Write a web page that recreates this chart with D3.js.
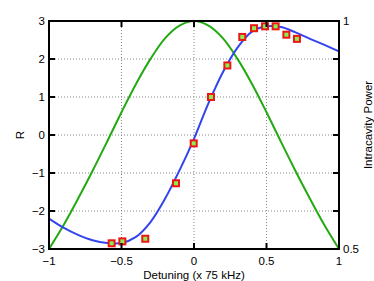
<!DOCTYPE html>
<html><head><meta charset="utf-8">
<script src="https://cdn.jsdelivr.net/npm/d3@7"></script>
<style>body{margin:0;background:#fff}svg{display:block}text{font-family:"Liberation Sans",Arial,sans-serif;font-size:11.5px;fill:#000}</style>
</head><body>
<svg id="c" width="374" height="281"></svg>
<script>
// Theory curve R vs detuning (blue)
const theoryX = [-1,-0.9,-0.8,-0.7,-0.6,-0.5,-0.4,-0.3,-0.2,-0.1,0,0.1,0.2,0.3,0.4,0.5,0.6,0.7,0.8,0.9,1];
const theoryR = [-2.2,-2.44,-2.63,-2.77,-2.84,-2.84,-2.68,-2.29,-1.68,-0.93,-0.1,0.84,1.66,2.3,2.72,2.86,2.84,2.7,2.53,2.37,2.2];
// Intracavity power (green, right axis)
const powerX = [-1,-0.9,-0.8,-0.7,-0.6,-0.5,-0.4,-0.3,-0.2,-0.1,0,0.1,0.2,0.3,0.4,0.5,0.6,0.7,0.8,0.9,1];
const powerY = [0.5,0.552,0.61,0.671,0.735,0.8,0.862,0.917,0.962,0.99,1,0.99,0.962,0.917,0.862,0.8,0.735,0.671,0.61,0.552,0.5];
// Measured points (squares)
const measX = [-0.568,-0.494,-0.336,-0.124,-0.002,0.117,0.23,0.333,0.414,0.49,0.563,0.637,0.71];
const measR = [-2.85,-2.80,-2.73,-1.27,-0.22,1.0,1.83,2.58,2.81,2.86,2.86,2.64,2.53];
const xTicks = [-1,-0.5,0,0.5,1];
const xTickLabels = ["\u22121","\u22120.5","0","0.5","1"];
const yTicks = [-3,-2,-1,0,1,2,3];
const yTickLabels = ["\u22123","\u22122","\u22121","0","1","2","3"];
const y2Ticks = [0.5,1];
const y2TickLabels = ["0.5","1"];

const L=49,R=339,T=21,B=249;
const svg=d3.select("#c");
const x=d3.scaleLinear().domain([-1,1]).range([L,R]);
const y=d3.scaleLinear().domain([-3,3]).range([B,T]);
const y2=d3.scaleLinear().domain([0.5,1]).range([B,T]);

// grid
const g=svg.append("g");
g.selectAll(".gx").data(xTicks.slice(1,-1)).join("line")
 .attr("x1",d=>x(d)).attr("x2",d=>x(d)).attr("y1",T).attr("y2",B)
 .attr("stroke","#888").attr("stroke-width",1).attr("stroke-dasharray","1,2");
g.selectAll(".gy").data(yTicks.slice(1,-1)).join("line")
 .attr("y1",d=>y(d)).attr("y2",d=>y(d)).attr("x1",L).attr("x2",R)
 .attr("stroke","#888").attr("stroke-width",1).attr("stroke-dasharray","1,2");

// curves
const lineP=d3.line().x(d=>x(d[0])).y(d=>y2(d[1])).curve(d3.curveCatmullRom);
svg.append("path").datum(powerX.map((v,i)=>[v,powerY[i]])).attr("d",lineP)
 .attr("fill","none").attr("stroke","#22aa11").attr("stroke-width",2);
const lineR=d3.line().x(d=>x(d[0])).y(d=>y(d[1])).curve(d3.curveCatmullRom);
svg.append("path").datum(theoryX.map((v,i)=>[v,theoryR[i]])).attr("d",lineR)
 .attr("fill","none").attr("stroke","#3344ee").attr("stroke-width",2);

// squares
svg.selectAll(".sq").data(measX.map((v,i)=>[v,measR[i]])).join("rect")
 .attr("x",d=>x(d[0])-3).attr("y",d=>y(d[1])-3).attr("width",6).attr("height",6)
 .attr("fill","#88ee55").attr("stroke","#ee1515").attr("stroke-width",2);

// box
svg.append("rect").attr("x",L).attr("y",T).attr("width",R-L).attr("height",B-T)
 .attr("fill","none").attr("stroke","#000").attr("stroke-width",2);

// ticks
const tl=6;
xTicks.slice(1,-1).forEach(t=>{
  svg.append("line").attr("x1",x(t)).attr("x2",x(t)).attr("y1",B).attr("y2",B-tl).attr("stroke","#000").attr("stroke-width",2);
  svg.append("line").attr("x1",x(t)).attr("x2",x(t)).attr("y1",T).attr("y2",T+tl).attr("stroke","#000").attr("stroke-width",2);
});
yTicks.slice(1,-1).forEach(t=>{
  svg.append("line").attr("x1",L).attr("x2",L+tl).attr("y1",y(t)).attr("y2",y(t)).attr("stroke","#000").attr("stroke-width",2);
  svg.append("line").attr("x1",R).attr("x2",R-tl).attr("y1",y(t)).attr("y2",y(t)).attr("stroke","#000").attr("stroke-width",2);
});

// labels
xTicks.forEach((t,i)=>svg.append("text").attr("x",x(t)).attr("y",264.5).attr("text-anchor","middle").text(xTickLabels[i]));
yTicks.forEach((t,i)=>svg.append("text").attr("x",45).attr("y",y(t)+4).attr("text-anchor","end").text(yTickLabels[i]));
y2Ticks.forEach((t,i)=>svg.append("text").attr("x",343).attr("y",y2(t)+4).attr("text-anchor","start").text(y2TickLabels[i]));

svg.append("text").attr("x",194).attr("y",278.5).attr("text-anchor","middle").text("Detuning (x 75 kHz)");
svg.append("text").attr("transform","translate(24,135) rotate(-90)").attr("text-anchor","middle").text("R");
svg.append("text").attr("transform","translate(372,125) rotate(-90)").attr("text-anchor","middle").text("Intracavity Power");
</script>
</body></html>
